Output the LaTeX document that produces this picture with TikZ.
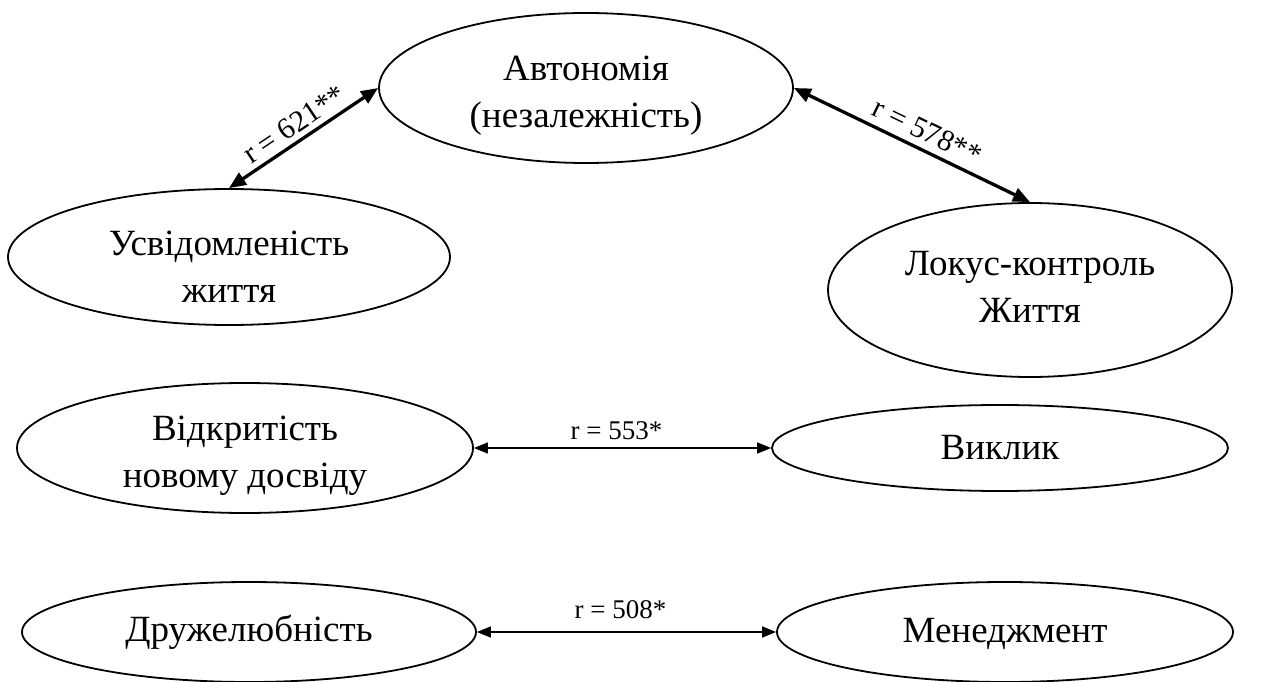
\documentclass[tikz,border=0pt]{standalone}
\usepackage{fontspec}
\setmainfont{Liberation Serif}
\usetikzlibrary{shapes.geometric,arrows.meta}

\begin{document}
\begin{tikzpicture}[x=1pt,y=-1pt,
  oval/.style={draw,ellipse,line width=1.8pt,inner sep=0pt},
  ovtext/.style={align=center,inner sep=0pt,font=\fontsize{37}{47}\selectfont},
  bigcorr/.style={line width=3.3pt,
    {Triangle[length=17pt,width=14pt]}-{Triangle[length=17pt,width=14pt]}},
  corr/.style={line width=1.6pt,
    {Triangle[length=14pt,width=11pt]}-{Triangle[length=14pt,width=11pt]}},
  rlab/.style={font=\fontsize{27}{30}\selectfont,inner sep=4pt},
  slab/.style={font=\fontsize{30}{32}\selectfont,inner sep=5pt}]
\useasboundingbox (0,0) rectangle (1262,682);
% top group
\node[oval,minimum width=414pt,minimum height=150pt,
  label={[ovtext,yshift=-8pt]center:{Автономія\\(незалежність)}}] (auto) at (586,88) {};
\node[oval,minimum width=442pt,minimum height=136pt,
  label={[ovtext,yshift=-10pt]center:{Усвідомленість\\життя}}] (usv) at (229,257) {};
\node[oval,minimum width=404pt,minimum height=174pt,
  label={[ovtext,yshift=3pt]center:{Локус-контроль\\Життя}}] (lok) at (1030,290) {};
\draw[bigcorr] (usv.north) -- (auto.west) node[slab,midway,sloped,above] {r = 621**};
\draw[bigcorr] (auto.east) -- (lok.north) node[slab,pos=0.53,sloped,above=2pt] {r = 578**};
% middle pair
\node[oval,minimum width=456pt,minimum height=130pt,
  label={[ovtext,yshift=-8pt]center:{Відкритість\\новому досвіду}}] (vid) at (245,448) {};
\node[oval,minimum width=456pt,minimum height=86pt,
  label={[ovtext]center:Виклик}] (vyk) at (1000,448) {};
\draw[corr] (vid.east) -- (vyk.west) node[rlab,midway,above=3pt,xshift=-6pt] {r = 553*};
% bottom pair
\node[oval,minimum width=454pt,minimum height=100pt,
  label={[ovtext]center:Дружелюбність}] (druzh) at (249,632) {};
\node[oval,minimum width=456pt,minimum height=100pt,
  label={[ovtext,yshift=-2pt]center:Менеджмент}] (men) at (1005,632) {};
\draw[corr] (druzh.east) -- (men.west) node[rlab,midway,above=8pt,xshift=-6pt] {r = 508*};
\end{tikzpicture}
\end{document}
